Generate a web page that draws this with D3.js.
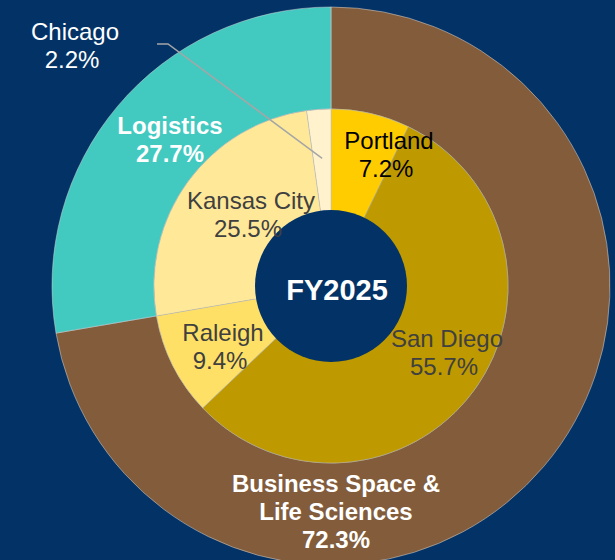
<!DOCTYPE html>
<html>
<head>
<meta charset="utf-8">
<script src="https://cdn.jsdelivr.net/npm/d3@7"></script>
<style>
  body { margin: 0; background: #033366; }
  svg { display: block; }
</style>
</head>
<body>
<script>
// outer ring: segments
var OUTER_NAMES = ["Business Space &\nLife Sciences", "Logistics"];
var OUTER_VALUES = [72.3, 27.7];
var OUTER_COLORS = ["#825C3B", "#42C9C0"];

// inner pie: markets
var INNER_NAMES = ["Portland", "San Diego", "Raleigh", "Kansas City", "Chicago"];
var INNER_VALUES = [7.2, 55.7, 9.4, 25.5, 2.2];
var INNER_COLORS = ["#FFCC00", "#BF9900", "#FFE066", "#FFE999", "#FFF2CC"];

var CENTER_LABEL = "FY2025";

var W = 615, H = 560;
var CX = 331, CY = 286;
var R_OUT = 279, R_MID = 177, R_HOLE = 76;
var FONT = "'Liberation Sans', Arial, sans-serif";

var svg = d3.select("body").append("svg")
    .attr("width", W)
    .attr("height", H);

svg.append("rect")
    .attr("width", W)
    .attr("height", H)
    .attr("fill", "#033366");

var g = svg.append("g").attr("transform", "translate(" + CX + "," + CY + ")");

var pie = d3.pie().sort(null).value(function(d) { return d.v; });

var outerData = pie(OUTER_VALUES.map(function(v, i) { return {v: v, name: OUTER_NAMES[i], color: OUTER_COLORS[i]}; }));
var innerData = pie(INNER_VALUES.map(function(v, i) { return {v: v, name: INNER_NAMES[i], color: INNER_COLORS[i]}; }));

var outerArc = d3.arc().innerRadius(R_MID).outerRadius(R_OUT);
var innerArc = d3.arc().innerRadius(0).outerRadius(R_MID);

g.selectAll(".outer")
    .data(outerData)
    .enter().append("path")
    .attr("class", "outer")
    .attr("d", outerArc)
    .style("fill", function(d) { return d.data.color; })
    .style("stroke", "#d9d9d9")
    .style("stroke-width", 0.5);

g.selectAll(".inner")
    .data(innerData)
    .enter().append("path")
    .attr("class", "inner")
    .attr("d", innerArc)
    .style("fill", function(d) { return d.data.color; })
    .style("stroke", "#bfbfbf")
    .style("stroke-width", 0.5);

// center hole
g.append("circle")
    .attr("r", R_HOLE)
    .style("fill", "#033366");

g.append("text")
    .attr("x", 6)
    .attr("y", 14)
    .attr("text-anchor", "middle")
    .style("font-family", FONT)
    .style("font-size", "29px")
    .style("font-weight", "bold")
    .style("fill", "#fff")
    .text(CENTER_LABEL);

// label placement (layout only), page coords of first baseline centre
var LABEL_POS = {
    "Business Space &\nLife Sciences": {x: 336, y: 492, color: "#fff", bold: true},
    "Logistics": {x: 170, y: 134, color: "#fff", bold: true},
    "Portland": {x: 389, y: 149, color: "#000", bold: false},
    "San Diego": {x: 447, y: 347, color: "#404040", bold: false},
    "Raleigh": {x: 223, y: 341, color: "#404040", bold: false},
    "Kansas City": {x: 251, y: 209, color: "#404040", bold: false},
    "Chicago": {x: 75, y: 40, color: "#fff", bold: false}
};

var labels = outerData.concat(innerData);
var LINE_H = 28;

labels.forEach(function(d) {
    var p = LABEL_POS[d.data.name];
    var lines = d.data.name.split("\n");
    lines.push(d.data.v.toFixed(1) + "%");
    var t = svg.append("text")
        .attr("text-anchor", "middle")
        .style("font-family", FONT)
        .style("font-size", "24px")
        .style("font-weight", p.bold ? "bold" : "normal")
        .style("fill", p.color);
    lines.forEach(function(line, i) {
        var last = i == lines.length - 1;
        t.append("tspan")
            .attr("x", p.x + (last && !p.bold ? -3 : 0))
            .attr("y", p.y + i * LINE_H)
            .text(line);
    });
});

// leader line for Chicago: from label to its slice
var chi = innerData[4];
var midA = (chi.startAngle + chi.endAngle) / 2;
var tipR = 128;
var tipX = CX + Math.sin(midA) * tipR;
var tipY = CY - Math.cos(midA) * tipR;
svg.append("polyline")
    .attr("points", [[157, 44], [168, 44], [tipX, tipY]].map(function(p) { return p.join(","); }).join(" "))
    .style("fill", "none")
    .style("stroke", "#A6A6A6")
    .style("stroke-width", 1.5);
</script>
</body>
</html>
